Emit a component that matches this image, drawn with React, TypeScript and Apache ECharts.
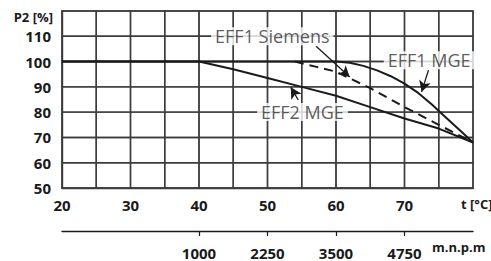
import React, { useEffect, useRef } from "react";
import * as echarts from "echarts";

// Temperature axis (°C) and power axis (%)
const tempLabelValues = [20, 30, 40, 50, 60, 70];
const powerLabelValues = [50, 60, 70, 80, 90, 100, 110];
// Grid lines (temperature every 5 °C, power every 10 %)
const gridTemps = [20, 25, 30, 35, 40, 45, 50, 55, 60, 65, 70, 75, 80];
const gridPowers = [50, 60, 70, 80, 90, 100, 110, 120];

// Secondary axis: altitude (m.n.p.m) aligned with temperatures
const altTemps = [40, 50, 60, 70];
const altLabels = ["1000", "2250", "3500", "4750"];

// EFF1 MGE curve
const eff1MgeTemp = [20, 40, 60, 62, 64, 66, 68, 70, 72, 74, 76, 78, 80];
const eff1MgeP = [100, 100, 100, 99.5, 98.3, 96.5, 94.2, 91.3, 87.6, 83, 78, 73, 68];

// EFF2 MGE curve
const eff2MgeTemp = [20, 40, 45, 50, 55, 60, 65, 70, 75, 80];
const eff2MgeP = [100, 100, 97, 93.5, 90, 86.5, 82, 77.5, 73.5, 68];

// EFF1 Siemens curve (dashed)
const siemensTemp = [54, 57, 60, 65, 70, 75, 80];
const siemensP = [100, 98, 96, 89.5, 82, 75, 68];

// Annotation labels: text, temp, power
const noteTexts = ["EFF1 Siemens", "EFF1 MGE", "EFF2 MGE"];
const noteTemp = [50.7, 73.6, 55.1];
const noteP = [110, 100.5, 80.1];

// Arrows: from (temp, P) to tip (temp, P)
const arrowFromT = [57.1, 73.5, 54.5];
const arrowFromP = [106.1, 96.6, 84.8];
const arrowToT = [62.0, 72.5, 53.4];
const arrowToP = [93.9, 88.0, 89.8];

const zip = (a: number[], b: number[]) => a.map((v, i) => [v, b[i]]);

export default function App() {
  const ref = useRef<HTMLDivElement>(null);
  useEffect(() => {
    if (!ref.current) return;
    const chart = echarts.init(ref.current, null, { renderer: "svg" });
    const gridColor = "#3c3c3c";
    const font = "'Open Sans', 'Noto Sans', sans-serif";
    const lineStyle = { color: "#1a1a1a", width: 2 };
    const textGraphics: any[] = [
      {
        type: "text",
        right: 438,
        top: 10,
        style: { text: "P2 [%]", font: `bold 13px ${font}`, fill: "#1a1a1a" },
      },
      {
        type: "text",
        left: 461,
        top: 197,
        style: { text: "t [°C]", font: `bold 13px ${font}`, fill: "#1a1a1a" },
      },
      {
        type: "text",
        left: 432,
        top: 240,
        style: { text: "m.n.p.m", font: `bold 13px ${font}`, fill: "#1a1a1a" },
      },
    ];
    chart.setOption({
      animation: false,
      grid: {
        left: 62,
        top: 11,
        width: 411,
        height: 177,
        show: true,
        borderColor: gridColor,
        borderWidth: 1.4,
        backgroundColor: "transparent",
      },
      xAxis: [
        {
          type: "value",
          min: 20,
          max: 80,
          interval: 5,
          axisLine: { show: true, lineStyle: { color: gridColor, width: 1.4 } },
          axisTick: { show: false },
          splitLine: { show: false },
          axisLabel: {
            margin: 9,
            fontFamily: font,
            fontSize: 15,
            fontWeight: "bold",
            color: "#1a1a1a",
            formatter: (v: number) => (tempLabelValues.indexOf(v) >= 0 ? String(v) : ""),
          },
        },
        {
          type: "value",
          position: "bottom",
          offset: 43,
          min: 20,
          max: 80,
          axisLine: { show: true, onZero: false, lineStyle: { color: "#1a1a1a", width: 1.4 } },
          axisTick: { show: true, length: 5, customValues: altTemps, lineStyle: { color: "#1a1a1a", width: 1.2 } },
          splitLine: { show: false },
          axisLabel: {
            margin: 14,
            fontFamily: font,
            fontSize: 15,
            fontWeight: "bold",
            color: "#1a1a1a",
            customValues: altTemps,
            formatter: (v: number) => {
              const i = altTemps.indexOf(v);
              return i >= 0 ? altLabels[i] : "";
            },
          },
        },
      ],
      yAxis: {
        type: "value",
        min: 50,
        max: 120,
        interval: 10,
        axisLine: { show: true, lineStyle: { color: gridColor, width: 1.4 } },
        axisTick: { show: false },
        splitLine: { show: false },
        axisLabel: {
          margin: 11,
          fontFamily: font,
          fontSize: 15,
          fontWeight: "bold",
          color: "#1a1a1a",
          formatter: (v: number) => (powerLabelValues.indexOf(v) >= 0 ? String(v) : ""),
        },
      },
      graphic: textGraphics,
      series: [
        {
          type: "line",
          name: "EFF2 MGE",
          data: zip(eff2MgeTemp, eff2MgeP),
          symbol: "none",
          lineStyle,
          z: 3,
        },
        {
          type: "line",
          name: "EFF1 MGE",
          data: zip(eff1MgeTemp, eff1MgeP),
          symbol: "none",
          lineStyle,
          z: 3,
        },
        {
          type: "line",
          name: "EFF1 Siemens",
          data: zip(siemensTemp, siemensP),
          symbol: "none",
          lineStyle: { ...lineStyle, type: [9, 6] },
          z: 3,
        },
        {
          type: "scatter",
          name: "notes",
          data: noteTexts.map((t, i) => ({ value: [noteTemp[i], noteP[i]], name: t })),
          symbolSize: 0,
          z: 4,
          label: {
            show: true,
            position: "inside",
            formatter: (p: any) => p.name,
            fontFamily: font,
            fontSize: 18,
            color: "#333",
            backgroundColor: "#fff",
            padding: [0, 4],
          },
          markLine: {
            silent: true,
            symbol: ["none", "arrow"],
            symbolSize: [9, 11],
            label: { show: false },
            lineStyle: { color: "#1a1a1a", width: 1.3, type: "solid" },
            data: arrowFromT.map((t, i) => [
              { coord: [t, arrowFromP[i]] },
              { coord: [arrowToT[i], arrowToP[i]] },
            ]),
          },
        },
      ],
    });

    // Grid cells as stroked rectangles placed through the chart's own scales
    const cells: any[] = [];
    for (let i = 0; i < gridTemps.length - 1; i++) {
      for (let j = 0; j < gridPowers.length - 1; j++) {
        const a = chart.convertToPixel({ xAxisIndex: 0, yAxisIndex: 0 }, [gridTemps[i], gridPowers[j + 1]]) as number[];
        const b = chart.convertToPixel({ xAxisIndex: 0, yAxisIndex: 0 }, [gridTemps[i + 1], gridPowers[j]]) as number[];
        cells.push({
          type: "rect",
          silent: true,
          z: 1,
          shape: { x: a[0], y: a[1], width: b[0] - a[0], height: b[1] - a[1] },
          style: { fill: "none", stroke: gridColor, lineWidth: 1.4 },
        });
      }
    }
    chart.setOption({ graphic: [...textGraphics, ...cells] });
    return () => chart.dispose();
  }, []);
  return (
    <div
      ref={ref}
      style={{ position: "absolute", left: 0, top: 0, width: 491, height: 261 }}
    />
  );
}
